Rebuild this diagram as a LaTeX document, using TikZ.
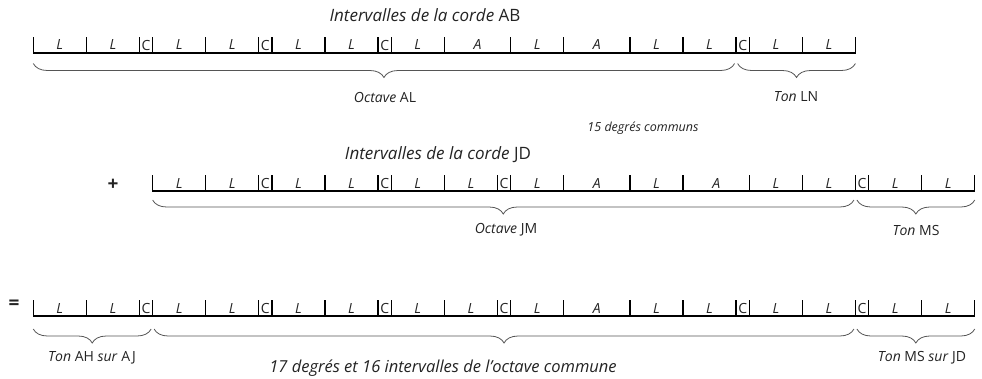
\documentclass[tikz,border=0pt]{standalone}
\usepackage{fontspec}
\setmainfont{Open Sans}
\usetikzlibrary{decorations.pathreplacing,positioning}
\definecolor{TexteNoir}{RGB}{35,35,35}
\definecolor{TraitGris}{RGB}{85,85,85}
\newcommand{\unitepas}{13.26}
\newcommand{\xorig}{33.3}
\newcommand{\wL}{4}\newcommand{\wC}{1}\newcommand{\wA}{5}
\newcommand{\tL}{\textit{L}}\newcommand{\tC}{C}\newcommand{\tA}{\textit{A}}
% une rangee d'intervalles : nom, x de depart, y de la ligne, liste
\newcommand{\rangee}[4]{%
  \foreach \s [count=\i, remember=\xb as \xa (initially #2)] in {#4}{
    \pgfmathsetmacro{\xb}{\xa+\csname w\s\endcsname*\unitepas}
    \draw[trait] (\xa,#3-15.5) -- (\xa,#3) -- (\xb,#3);
    \node[lettre] (#1-\i) at ({(\xa+\xb)/2},#3-8) {\csname t\s\endcsname};
  }}

\begin{document}
\begin{tikzpicture}[x=1pt,y=-1pt,
  trait/.style={line width=1.3pt,black,line cap=rect},
  lettre/.style={font=\fontsize{14}{16}\selectfont,text=TexteNoir,inner sep=0pt},
  accolade/.style={decorate,decoration={brace,mirror,amplitude=14pt},draw=TraitGris,line width=.8pt},
  titre/.style={font=\fontsize{17}{20}\selectfont,text=TexteNoir},
  etiquette/.style={font=\fontsize{14}{16}\selectfont,text=TexteNoir},
  signe/.style={font=\fontsize{19}{21}\selectfont\bfseries,text=TexteNoir}]
\useasboundingbox (0,0) rectangle (982,378);

% corde AB
\node[titre] (titreAB) at (425,15) {\textit{Intervalles de la corde} AB};
\rangee{ab}{\xorig}{53}{L,L,C,L,L,C,L,L,C,L,A,L,A,L,L,C,L,L}
\draw[trait] ({\xorig+62*\unitepas},37.5) -- ++(0,15.5);
\draw[accolade] (\xorig,63.5) -- ({\xorig+53*\unitepas-1.5},63.5);
\draw[accolade] ({\xorig+53*\unitepas+1.5},63.5) -- ({\xorig+62*\unitepas},63.5);
\node[etiquette] (octAL) at (385,97) {\textit{Octave} AL};
\node[etiquette] (tonLN) at (796,97) {\textit{Ton} LN};

\node[font=\fontsize{12.5}{15}\selectfont\itshape,text=TexteNoir] (communs) at (643,128) {15 degrés communs};

% corde JD
\node[titre] (titreJD) at (438,155) {\textit{Intervalles de la corde} JD};
\node[signe] (plus) at (113,185) {+};
\rangee{jd}{\xorig+9*\unitepas}{191}{L,L,C,L,L,C,L,L,C,L,A,L,A,L,L,C,L,L}
\draw[trait] ({\xorig+71*\unitepas},175.5) -- ++(0,15.5);
\draw[accolade] ({\xorig+9*\unitepas},200) -- ({\xorig+62*\unitepas-1.5},200);
\draw[accolade] ({\xorig+62*\unitepas+1.5},200) -- ({\xorig+71*\unitepas},200);
\node[etiquette] (octJM) at (506,230) {\textit{Octave} JM};
\node[etiquette] (tonMS) at (916,230) {\textit{Ton} MS};

% somme
\node[signe] (egal) at (14,305) {=};
\rangee{som}{\xorig}{316}{L,L,C,L,L,C,L,L,C,L,L,C,L,A,L,L,C,L,L,C,L,L}
\draw[trait] ({\xorig+71*\unitepas},300.5) -- ++(0,15.5);
\draw[accolade] (\xorig,329) -- ({\xorig+9*\unitepas-1.5},329);
\draw[accolade] ({\xorig+9*\unitepas+1.5},329) -- ({\xorig+62*\unitepas-1.5},329);
\draw[accolade] ({\xorig+62*\unitepas+1.5},329) -- ({\xorig+71*\unitepas},329);
\node[etiquette] (tonAH) at (92,358) {\textit{Ton} AH \textit{sur} AJ};
\node[font=\fontsize{16.5}{19}\selectfont\itshape,text=TexteNoir] (commune) at (443,368) {17 degrés et 16 intervalles de l'octave commune};
\node[etiquette] (tonMSJD) at (922,358) {\textit{Ton} MS \textit{sur} JD};
\end{tikzpicture}
\end{document}
